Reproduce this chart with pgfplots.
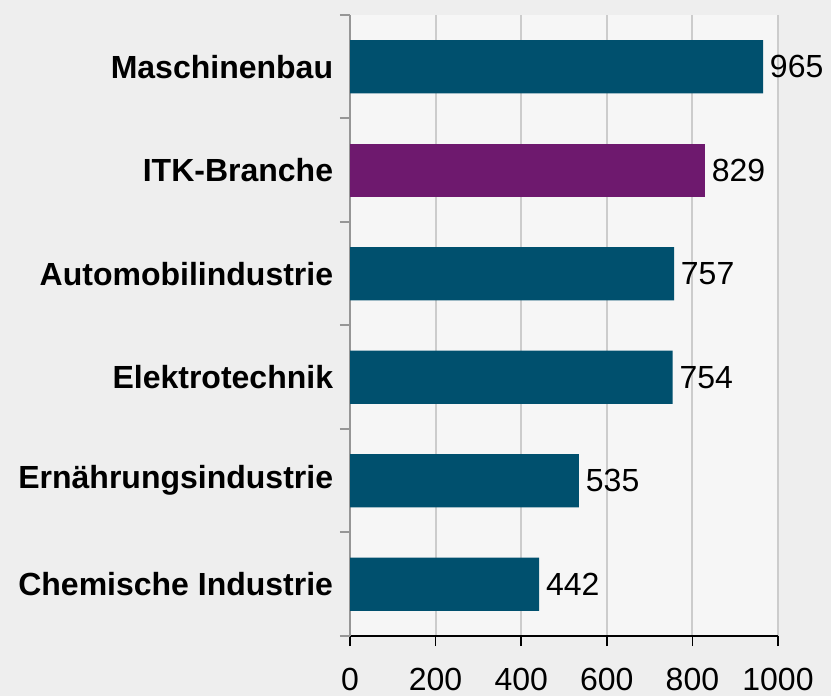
\documentclass[border=0pt]{standalone}
\usepackage{fontspec}
\setmainfont{Liberation Sans}
\usepackage{pgfplots}
\pgfplotsset{compat=1.18}
\definecolor{barteal}{RGB}{0,80,110}
\definecolor{barpurple}{RGB}{110,25,110}
\definecolor{outerbg}{RGB}{238,238,238}
\definecolor{plotbg}{RGB}{246,246,246}
\definecolor{gridc}{RGB}{204,204,204}
\definecolor{yaxc}{RGB}{150,150,150}
\begin{document}
\begin{tikzpicture}[x=1pt,y=1pt]
\fill[outerbg] (0,0) rectangle (623.25,522);
\begin{axis}[
  at={(262.5pt,45pt)}, anchor=south west,
  scale only axis, width=321pt, height=465.75pt,
  axis background/.style={fill=plotbg},
  xbar, bar width=40pt, bar shift=0pt,
  xmin=0, xmax=1000, ymin=-0.5, ymax=5.5,
  axis x line=bottom, axis y line=left,
  x axis line style={-, black, line width=1.2pt},
  y axis line style={-, yaxc, line width=1.5pt},
  tick align=outside,
  xtick={0,200,...,1000},
  x tick style={black, line width=1.2pt},
  major tick length=7.5pt,
  minor tick length=7.5pt,
  xmajorgrids, grid style={gridc, line width=1.5pt},
  ytick={0,...,5},
  yticklabels={Chemische Industrie, Ernährungsindustrie, Elektrotechnik, Automobilindustrie, ITK-Branche, Maschinenbau},
  major y tick style={draw=none},
  minor ytick={-0.5,0.5,...,5.5},
  minor y tick style={yaxc, line width=1.5pt},
  ymajorgrids=false, yminorgrids=false,
  /pgf/number format/assume math mode=true,
  /pgf/number format/1000 sep={},
  tick label style={font=\fontsize{24}{27}\selectfont},
  yticklabel style={font=\fontsize{24}{27}\selectfont\bfseries, inner sep=0pt, xshift=-5pt},
  xticklabel style={inner sep=0pt, yshift=-16.5pt},
  nodes near coords,
  nodes near coords align=horizontal,
  every node near coord/.append style={font=\fontsize{24}{27}\selectfont, black, anchor=west, inner sep=0pt, xshift=5pt},
]
\addplot[fill=barteal, draw=none] coordinates {(442,0) (535,1) (754,2) (757,3) (965,5)};
\addplot[fill=barpurple, draw=none] coordinates {(829,4)};
\end{axis}
\pgfresetboundingbox
\useasboundingbox (0,0) rectangle (623.25,522);
\end{tikzpicture}
\end{document}
